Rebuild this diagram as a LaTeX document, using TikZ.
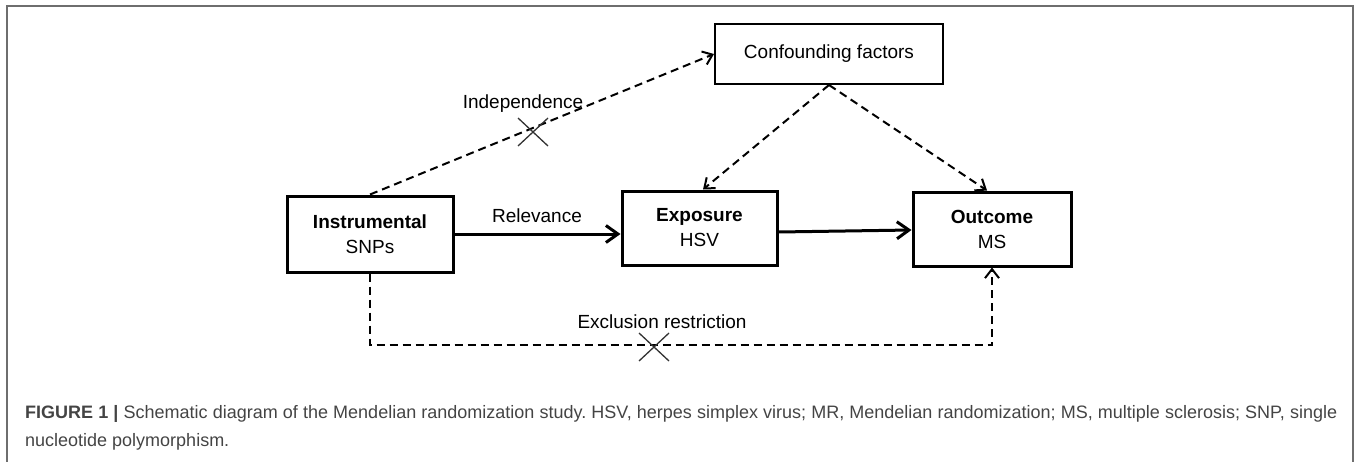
\documentclass[tikz,border=0pt]{standalone}
\usepackage{fontspec}
\setmainfont{Liberation Sans}
\usetikzlibrary{arrows.meta,calc}
\definecolor{framegray}{HTML}{6E6E6E}
\definecolor{captgray}{HTML}{444444}
\frenchspacing
\begin{document}
\begin{tikzpicture}[x=1pt,y=-1pt,
  mainbox/.style={draw=black,line width=3pt,align=center,inner sep=0pt,
    font=\fontsize{19}{25}\selectfont},
  confbox/.style={draw=black,line width=2pt,align=center,inner sep=0pt,
    font=\fontsize{19}{25}\selectfont},
  lbl/.style={font=\fontsize{19}{23}\selectfont,inner sep=0pt},
  solidarrow/.style={line width=3pt,-{Straight Barb[length=12pt,width=17pt,line width=3pt]}},
  dasharrow/.style={line width=2pt,dash pattern=on 8pt off 5pt,-{Straight Barb[length=9pt,width=14pt,line width=2pt,sep=0pt]}},
  crossline/.style={line width=1.3pt,draw=black!80},
  capt/.style={anchor=base west,inner sep=0pt,text=captgray,font=\fontsize{18}{22}\selectfont}
]
\useasboundingbox (0,0) rectangle (1357,461);
% frame
\draw[framegray,line width=1.5pt] (7,470) -- (7,6) -- (1353,6) -- (1353,470);

% boxes
\node[mainbox,minimum width=166pt,minimum height=76pt] (instr) at (370,234)
  {\textbf{Instrumental}\\SNPs};
\node[mainbox,minimum width=155pt,minimum height=74pt] (expo) at (699.5,228)
  {\textbf{Exposure}\\HSV};
\node[mainbox,minimum width=158pt,minimum height=74pt] (outc) at (992,229)
  {\textbf{Outcome}\\MS};
\node[confbox,minimum width=228pt,minimum height=60pt] (conf) at (829,54)
  {Confounding factors};

% labels
\node[lbl] (rel) at (537,216) {Relevance};
\node[lbl] (ind) at (523,104) {Independence};
\node[lbl] (exc) at (662,322) {Exclusion restriction};

% connectors
\draw[solidarrow] (instr.east) -- (instr.east -| expo.west);
\draw[solidarrow] ([yshift=-4pt]expo.east) -- ([yshift=-1pt]outc.west);
\draw[dasharrow] (instr.north) -- (conf.west);
\coordinate (cb) at (conf.south);
\draw[dasharrow] (cb) -- ([xshift=3.5pt]expo.north);
\draw[dasharrow] (cb) -- ([xshift=-5pt]outc.north);
\coordinate (exl) at (372,345);
\draw[dasharrow] (instr.south) -- (instr.south |- exl) -- (outc.south |- exl) -- (outc.south);

% crosses
\coordinate (x1) at (533,132);
\coordinate (x2) at (654,347);
\draw[crossline] ($(x1)+(-15,-14)$) -- ($(x1)+(15,14)$);
\draw[crossline] ($(x1)+(-15,14)$) -- ($(x1)+(15,-14)$);
\draw[crossline] ($(x2)+(-15,-14)$) -- ($(x2)+(15,14)$);
\draw[crossline] ($(x2)+(-15,14)$) -- ($(x2)+(15,-14)$);

% caption
\node[capt] (cap1) at (25,418)
  {\makebox[1312pt][s]{\textbf{FIGURE 1 |} Schematic diagram of the Mendelian randomization study. HSV, herpes simplex virus; MR, Mendelian randomization; MS, multiple sclerosis; SNP, single}};
\node[capt] (cap2) at (25,446)
  {nucleotide polymorphism.};
\end{tikzpicture}
\end{document}
